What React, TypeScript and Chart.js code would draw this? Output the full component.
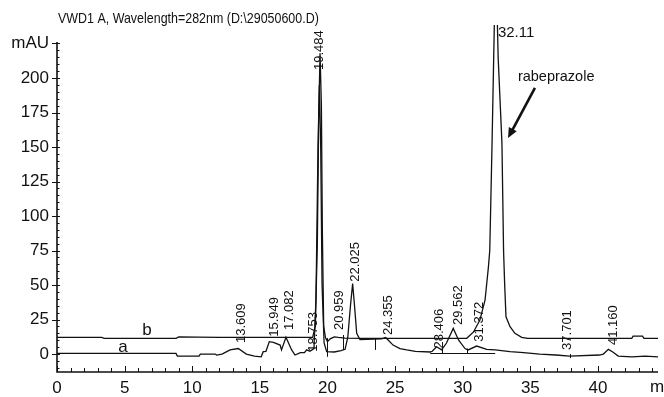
import React, { useEffect, useRef } from "react";
import { Chart, registerables } from "chart.js";

Chart.register(...registerables);

const TITLE = "VWD1 A, Wavelength=282nm (D:\\29050600.D)";
const X_UNIT = "min";
const X_TICKS = [0, 5, 10, 15, 20, 25, 30, 35, 40];
const Y_TICKS = [0, 25, 50, 75, 100, 125, 150, 175, 200, 225];
const Y_UNIT_TICK = 225;
const Y_UNIT = "mAU";

// trace b (upper baseline)
const traceBTime = [0, 3.3, 3.5, 8.8, 9.0, 10.4, 12, 18.9, 19.1, 19.25, 19.35, 19.45, 19.55, 19.62, 19.72, 19.85, 20.0, 20.2, 20.5, 20.8, 21.3, 22.5, 30.3, 30.8, 31.27, 31.65, 31.9, 32.0, 32.17, 32.35, 32.55, 32.62, 32.9, 33.02, 33.1, 33.2, 33.5, 33.86, 34.36, 34.8, 42.5, 42.6, 43.3, 43.4, 44.44];
const traceBValue = [12.1, 12.1, 11.4, 11.4, 12.4, 12.2, 12.1, 12.1, 20, 80, 170, 218, 180, 90, 20, 12, 9, 11, 12.5, 12.1, 11.6, 11.4, 11.4, 16, 24.6, 39, 63, 75, 153, 245, 245, 215, 153, 75, 51, 27, 19.8, 15, 12.1, 11.4, 11.4, 13, 13, 11.4, 11.4];

// trace a (lower baseline)
const traceATime = [0, 8.8, 8.9, 10.5, 10.6, 11.7, 11.8, 12.2, 12.8, 13.4, 14.0, 14.6, 15.1, 15.25, 15.45, 15.7, 16.0, 16.5, 16.6, 16.93, 17.35, 17.6, 18.0, 18.3, 18.46, 18.7, 19.0, 19.15, 19.3, 19.4, 19.5, 19.6, 19.75, 19.94, 20.5, 21.0, 21.3, 21.5, 21.7, 21.86, 22.0, 22.16, 22.4, 24.0, 24.3, 24.5, 24.85, 25.36, 25.86, 26.5, 27.6, 27.75, 28.07, 28.44, 28.8, 29.3, 29.7, 30.17, 30.4, 31.03, 31.77, 32.4, 33.5, 34.5, 35.7, 36.9, 37.9, 40.1, 40.4, 40.77, 41.1, 41.5, 42.5, 43.5, 44.44];
const traceAValue = [0.5, 0.5, -1.5, -1.5, 0, 0, -0.7, 0, 3, 4, 0, -1.5, -2, 1.7, 2, 9, 8.5, 6.5, 3, 12.1, 3, -0.7, 1, 1, 3, 2, 4, 40, 150, 195, 150, 50, 8, 1.7, 1.5, 2.5, 3.4, 12, 35, 51, 35, 15, 10.5, 11, 12, 10, 6.5, 4, 3, 2, 1.5, 2, 5.3, 3, 8, 18.6, 10, 4, 3, 5.8, 3.4, 3, 1.7, 1, 0, -0.7, -1.5, -0.7, 0, 3.4, 1.5, -1.5, -2, -1.5, -2];

// vertical retention-time labels
const peakTexts = ["13.609", "15.949", "17.082", "18.753", "19.484", "20.959", "22.025", "24.355", "28.406", "29.562", "31.372", "37.701", "41.160"];
const peakLabelTime = [13.65, 16.07, 17.15, 18.95, 19.44, 20.92, 22.03, 24.5, 28.3, 29.67, 31.2, 37.73, 41.13];
const peakLabelBase = [8, 12.5, 17.4, 1.7, 205.8, 17.4, 52.4, 13.8, 4, 21, 9, 3, 6.5];

const mainPeakText = "32.11";
const mainPeakLabelTime = 32.6;
const mainPeakLabelValue = 233;

const traceNames = ["a", "b"];
const traceNameTime = [4.88, 6.65];
const traceNameValue = [5, 17.4];

const compoundName = "rabeprazole";
const compoundTime = 34.08;
const compoundValue = 200.7;
const arrowFrom = [35.34, 192.8];
const arrowTo = [33.35, 156.5];

// integration drop lines: time, top value, bottom value
const dropTime = [19.94, 21.17, 23.5, 28.5, 30.3, 37.9];
const dropTop = [11.6, 13.8, 11.4, 4.5, 4, 0];
const dropBottom = [-2, 3, 3, 0.5, 0.5, -3];
const baselineSeg = [27.6, 32.4, 0.5];

const FONT = "'Liberation Sans', Arial, Helvetica, sans-serif";
const INK = "#111";

const overlay = {
  id: "overlay",
  afterDraw(chart: any) {
    const { ctx, chartArea } = chart;
    const xs = chart.scales.x;
    const ys = chart.scales.y;
    const X = (t: number) => xs.getPixelForValue(t);
    const Y = (v: number) => ys.getPixelForValue(v);
    ctx.save();
    ctx.strokeStyle = INK;
    ctx.fillStyle = INK;

    // axes lines
    ctx.lineWidth = 1.6;
    ctx.beginPath();
    ctx.moveTo(chartArea.left, Y(226));
    ctx.lineTo(chartArea.left, chartArea.bottom);
    ctx.lineTo(chartArea.right, chartArea.bottom);
    ctx.stroke();

    // x ticks
    ctx.lineWidth = 1;
    ctx.beginPath();
    for (let t = 0; t <= 44; t++) {
      const px = Math.round(X(t)) + 0.5;
      const len = t % 5 === 0 ? 6 : 4;
      ctx.moveTo(px, chartArea.bottom);
      ctx.lineTo(px, chartArea.bottom - len);
    }
    // y ticks
    for (let v = -10; v <= 225; v += 5) {
      const py = Math.round(Y(v)) + 0.5;
      if (v % 25 === 0) {
        ctx.moveTo(chartArea.left - 5, py);
        ctx.lineTo(chartArea.left + 3, py);
      } else {
        ctx.moveTo(chartArea.left, py);
        ctx.lineTo(chartArea.left + 2.5, py);
      }
    }
    ctx.stroke();

    // drop lines and baseline segment
    ctx.lineWidth = 1;
    ctx.beginPath();
    for (let i = 0; i < dropTime.length; i++) {
      const px = Math.round(X(dropTime[i])) + 0.5;
      ctx.moveTo(px, Y(dropTop[i]));
      ctx.lineTo(px, Y(dropBottom[i]));
    }
    ctx.moveTo(X(baselineSeg[0]), Math.round(Y(baselineSeg[2])) + 0.5);
    ctx.lineTo(X(baselineSeg[1]), Math.round(Y(baselineSeg[2])) + 0.5);
    ctx.stroke();

    // title
    ctx.save();
    ctx.font = `15px ${FONT}`;
    ctx.textBaseline = "middle";
    ctx.textAlign = "left";
    ctx.translate(58, 19);
    ctx.scale(0.83, 1);
    ctx.fillText(TITLE, 0, 0);
    ctx.restore();

    // x unit (cut by the edge)
    ctx.font = `17px ${FONT}`;
    ctx.textBaseline = "top";
    ctx.textAlign = "left";
    ctx.fillText(X_UNIT, 650, chartArea.bottom + 7);

    // vertical peak labels
    ctx.font = `13px ${FONT}`;
    for (let i = 0; i < peakTexts.length; i++) {
      ctx.save();
      ctx.translate(X(peakLabelTime[i]), Y(peakLabelBase[i]));
      ctx.rotate(-Math.PI / 2);
      ctx.textAlign = "left";
      ctx.textBaseline = "middle";
      ctx.fillText(peakTexts[i], 0, 0);
      ctx.restore();
    }

    // main peak label
    ctx.font = `15px ${FONT}`;
    ctx.textAlign = "left";
    ctx.textBaseline = "middle";
    ctx.fillText(mainPeakText, X(mainPeakLabelTime), Y(mainPeakLabelValue));

    // trace names
    ctx.font = `17px ${FONT}`;
    ctx.textAlign = "center";
    for (let i = 0; i < traceNames.length; i++) {
      ctx.fillText(traceNames[i], X(traceNameTime[i]), Y(traceNameValue[i]));
    }

    // compound annotation
    ctx.font = `14.5px ${FONT}`;
    ctx.textAlign = "left";
    ctx.fillText(compoundName, X(compoundTime), Y(compoundValue));

    // arrow
    const x1 = X(arrowFrom[0]), y1 = Y(arrowFrom[1]);
    const x2 = X(arrowTo[0]), y2 = Y(arrowTo[1]);
    const ang = Math.atan2(y2 - y1, x2 - x1);
    const head = 11;
    ctx.lineWidth = 2.6;
    ctx.beginPath();
    ctx.moveTo(x1, y1);
    ctx.lineTo(x2 - Math.cos(ang) * head * 0.8, y2 - Math.sin(ang) * head * 0.8);
    ctx.stroke();
    ctx.beginPath();
    ctx.moveTo(x2, y2);
    ctx.lineTo(x2 - head * Math.cos(ang - 0.42), y2 - head * Math.sin(ang - 0.42));
    ctx.lineTo(x2 - head * Math.cos(ang + 0.42), y2 - head * Math.sin(ang + 0.42));
    ctx.closePath();
    ctx.fill();

    ctx.restore();
  },
};

export default function App() {
  const ref = useRef<HTMLCanvasElement | null>(null);

  useEffect(() => {
    if (!ref.current) return;
    const toPoints = (ts: number[], vs: number[]) => ts.map((t, i) => ({ x: t, y: vs[i] }));
    const chart = new Chart(ref.current, {
      type: "line",
      data: {
        datasets: [
          {
            label: "a",
            data: toPoints(traceATime, traceAValue),
            borderColor: INK,
            borderWidth: 1.3,
            pointRadius: 0,
            tension: 0,
            fill: false,
          },
          {
            label: "b",
            data: toPoints(traceBTime, traceBValue),
            borderColor: INK,
            borderWidth: 1.3,
            pointRadius: 0,
            tension: 0,
            fill: false,
          },
        ],
      },
      options: {
        animation: false,
        responsive: false,
        devicePixelRatio: 1,
        layout: { padding: { top: 25, right: 6, left: 0, bottom: 0 } },
        plugins: { legend: { display: false }, tooltip: { enabled: false }, title: { display: false } },
        scales: {
          x: {
            type: "linear",
            min: 0,
            max: 44.44,
            afterBuildTicks: (s: any) => {
              s.ticks = X_TICKS.map((v) => ({ value: v }));
            },
            afterFit: (s: any) => {
              s.height = 25;
            },
            grid: { display: false, drawTicks: false },
            border: { display: false },
            ticks: {
              autoSkip: false,
              maxRotation: 0,
              padding: 6,
              color: INK,
              font: { family: FONT, size: 17 },
            },
          },
          y: {
            type: "linear",
            min: -13,
            max: 238.4,
            afterBuildTicks: (s: any) => {
              s.ticks = Y_TICKS.map((v) => ({ value: v }));
            },
            afterFit: (s: any) => {
              s.width = 57;
            },
            grid: { display: false, drawTicks: false },
            border: { display: false },
            ticks: {
              autoSkip: false,
              padding: 8,
              color: INK,
              font: { family: FONT, size: 17 },
              callback: (v: any) => (v === Y_UNIT_TICK ? Y_UNIT : String(v)),
            },
          },
        },
      },
      plugins: [overlay],
    });
    return () => chart.destroy();
  }, []);

  return (
    <div style={{ position: "fixed", left: 0, top: 0, width: 664, height: 397, background: "#fff" }}>
      <canvas ref={ref} width={664} height={397} style={{ display: "block" }} />
    </div>
  );
}
